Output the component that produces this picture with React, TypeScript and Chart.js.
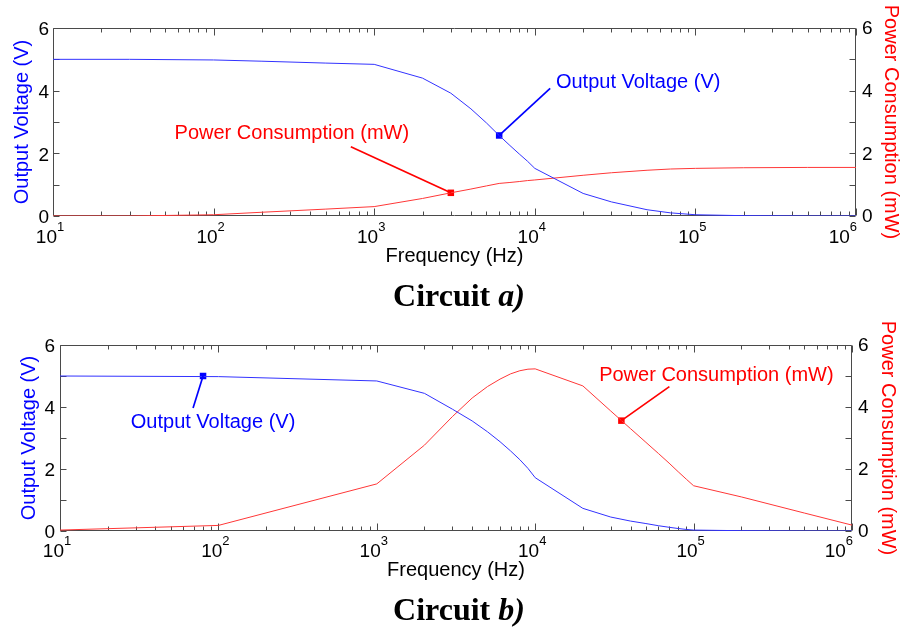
import React, { useEffect, useRef } from 'react';
import { Chart, registerables } from 'chart.js';

Chart.register(...registerables);

const FONT = "'Liberation Sans', Arial, Helvetica, sans-serif";

// ---- axis ticks ----
const X_TICK_VALUES = [10, 100, 1000, 10000, 100000, 1000000];
const X_TICK_BASE = '10';
const X_TICK_EXPONENTS = ['1', '2', '3', '4', '5', '6'];
const Y_TICK_VALUES = [0, 2, 4, 6];
const Y_MINOR_TICKS = [0, 1, 2, 3, 4, 5, 6];

// ---- Circuit a) ----
const FREQ_A = [10, 30, 100, 200, 500, 1000, 2000, 3000, 4000, 5000, 6000, 7000, 8000, 9000, 10000, 20000, 30000, 50000, 70000, 100000, 200000, 500000, 1000000];
const VOLT_A = [5.0, 5.0, 4.98, 4.94, 4.88, 4.84, 4.4, 3.92, 3.42, 2.97, 2.57, 2.25, 1.98, 1.75, 1.52, 0.72, 0.45, 0.2, 0.1, 0.04, 0.01, 0.0, 0.0];
const POWER_A = [0.0, 0.0, 0.04, 0.12, 0.22, 0.3, 0.56, 0.74, 0.86, 0.96, 1.04, 1.07, 1.1, 1.13, 1.15, 1.3, 1.38, 1.46, 1.5, 1.52, 1.54, 1.55, 1.55];
const MARK_A_FREQ = [6000, 3000];
const MARK_A_VALUE = [2.57, 0.74];

// ---- Circuit b) ----
const FREQ_B = [10, 100, 1000, 2000, 3000, 4000, 5000, 6000, 7000, 8000, 9000, 10000, 20000, 30000, 40000, 50000, 60000, 70000, 80000, 90000, 100000, 200000, 500000, 1000000];
const VOLT_B = [5.0, 4.98, 4.84, 4.44, 3.93, 3.55, 3.2, 2.88, 2.58, 2.3, 2.02, 1.72, 0.73, 0.45, 0.32, 0.24, 0.17, 0.12, 0.08, 0.05, 0.03, 0.01, 0.0, 0.0];
const POWER_B = [0.03, 0.18, 1.52, 2.77, 3.69, 4.29, 4.66, 4.9, 5.07, 5.17, 5.22, 5.23, 4.68, 3.87, 3.3, 2.86, 2.5, 2.19, 1.91, 1.67, 1.46, 1.1, 0.58, 0.19];
const MARK_B_FREQ = [80, 35000];
const MARK_B_VALUE = [5.0, 3.56];

const SERIES_LABELS = ['Output Voltage (V)', 'Power Consumption (mW)'];
const X_TITLE = 'Frequency (Hz)';

const BLUE_LINE = 'rgb(50,50,255)';
const RED_LINE = 'rgb(255,55,55)';
const BLUE_TEXT = '#0000ff';
const RED_TEXT = '#ff0000';

const framePlugin = {
  id: 'frame',
  beforeDatasetsDraw(chart: any) {
    const { ctx, chartArea } = chart;
    const { left, right, top, bottom } = chartArea;
    const xs = chart.scales.x;
    const ys = chart.scales.y;
    ctx.save();
    ctx.strokeStyle = '#4a4a4a';
    ctx.lineWidth = 1;
    const L = Math.round(left) + 0.5;
    const R = Math.round(right) - 0.5;
    const T = Math.round(top) + 0.5;
    const B = Math.round(bottom) - 0.5;
    ctx.beginPath();
    ctx.rect(L, T, R - L, B - T);
    ctx.stroke();
    ctx.beginPath();
    for (let e = 1; e <= 6; e++) {
      for (let m = 1; m <= 9; m++) {
        const v = m * Math.pow(10, e);
        if (v > 1000000) break;
        const px = Math.round(xs.getPixelForValue(v)) + 0.5;
        const len = m === 1 ? 7 : 4;
        ctx.moveTo(px, B);
        ctx.lineTo(px, B - len);
        ctx.moveTo(px, T);
        ctx.lineTo(px, T + len);
      }
    }
    Y_MINOR_TICKS.forEach((v) => {
      const py = Math.round(ys.getPixelForValue(v)) + 0.5;
      ctx.moveTo(L, py);
      ctx.lineTo(L + 6, py);
      ctx.moveTo(R, py);
      ctx.lineTo(R - 6, py);
    });
    ctx.stroke();
    ctx.restore();
  },
  afterDraw(chart: any, _args: any, opts: any) {
    // x tick labels drawn as "10" with a raised exponent
    const { ctx, chartArea } = chart;
    const xs = chart.scales.x;
    const baseY = chartArea.bottom + (opts && opts.labelDrop ? opts.labelDrop : 27);
    ctx.save();
    ctx.fillStyle = '#000';
    ctx.textBaseline = 'alphabetic';
    ctx.textAlign = 'left';
    X_TICK_VALUES.forEach((v, i) => {
      const px = xs.getPixelForValue(v);
      ctx.font = `19px ${FONT}`;
      const wb = ctx.measureText(X_TICK_BASE).width;
      ctx.font = `13px ${FONT}`;
      const we = ctx.measureText(X_TICK_EXPONENTS[i]).width;
      const total = wb + we;
      const last = i === X_TICK_VALUES.length - 1;
      const x0 = last ? px + 1 - total : px - 3 - total / 2;
      ctx.font = `19px ${FONT}`;
      ctx.fillText(X_TICK_BASE, x0, baseY);
      ctx.font = `13px ${FONT}`;
      ctx.fillText(X_TICK_EXPONENTS[i], x0 + wb, baseY - 12);
    });
    ctx.restore();
  },
};

const leaderPlugin = {
  id: 'leaders',
  afterDatasetsDraw(chart: any, _args: any, opts: any) {
    const items = (opts && opts.items) || [];
    const { ctx } = chart;
    ctx.save();
    items.forEach((it: any) => {
      const meta = chart.getDatasetMeta(it.dataset);
      const pt = meta.data[it.index];
      if (!pt) return;
      ctx.strokeStyle = it.color;
      ctx.lineWidth = 1.7;
      ctx.beginPath();
      ctx.moveTo(pt.x, pt.y);
      ctx.lineTo(pt.x + it.dx, pt.y + it.dy);
      ctx.stroke();
      ctx.fillStyle = it.color;
      ctx.font = `20px ${FONT}`;
      ctx.textAlign = 'center';
      ctx.textBaseline = 'middle';
      ctx.fillText(it.text, pt.x + it.tx, pt.y + it.ty);
    });
    ctx.restore();
  },
};

type Spec = {
  freq: number[];
  volt: number[];
  power: number[];
  markFreq: number[];
  markValue: number[];
  leftW: number;
  rightW: number;
  padTop: number;
  xH: number;
  leftTitlePad: number;
  rightTitlePad: number;
  xTitlePad: number;
  labelDrop: number;
  leftTickPad: number;
  rightTickPad: number;
  leaders: any[];
};

function ChartPanel({ spec, height }: { spec: Spec; height: number }) {
  const ref = useRef<HTMLCanvasElement | null>(null);
  useEffect(() => {
    if (!ref.current) return;
    const voltData = spec.freq.map((f, i) => ({ x: f, y: spec.volt[i] }));
    const powerData = spec.freq.map((f, i) => ({ x: f, y: spec.power[i] }));
    const tickFont = { family: FONT, size: 19 };
    const titleFont = { family: FONT, size: 20, lineHeight: 1 };
    const chart = new Chart(ref.current, {
      type: 'line',
      data: {
        datasets: [
          {
            label: SERIES_LABELS[0],
            data: voltData,
            borderColor: BLUE_LINE,
            borderWidth: 1,
            pointRadius: 0,
            yAxisID: 'y',
            tension: 0,
          },
          {
            label: SERIES_LABELS[1],
            data: powerData,
            borderColor: RED_LINE,
            borderWidth: 1,
            pointRadius: 0,
            yAxisID: 'y2',
            tension: 0,
          },
          {
            label: 'marker-v',
            data: [{ x: spec.markFreq[0], y: spec.markValue[0] }],
            showLine: false,
            pointStyle: 'rect',
            pointRadius: 4.6,
            pointBackgroundColor: BLUE_TEXT,
            pointBorderWidth: 0,
            yAxisID: 'y',
          },
          {
            label: 'marker-p',
            data: [{ x: spec.markFreq[1], y: spec.markValue[1] }],
            showLine: false,
            pointStyle: 'rect',
            pointRadius: 4.6,
            pointBackgroundColor: RED_TEXT,
            pointBorderWidth: 0,
            yAxisID: 'y2',
          },
        ],
      },
      options: {
        responsive: false,
        animation: false,
        devicePixelRatio: 1,
        layout: { padding: { top: spec.padTop, left: 0, right: 0, bottom: 0 } },
        plugins: {
          legend: { display: false },
          tooltip: { enabled: false },
          leaders: { items: spec.leaders },
          frame: { labelDrop: spec.labelDrop },
        } as any,
        scales: {
          x: {
            type: 'logarithmic',
            position: 'bottom',
            min: 10,
            max: 1000000,
            afterBuildTicks: (s: any) => {
              s.ticks = X_TICK_VALUES.map((v) => ({ value: v }));
            },
            afterFit: (s: any) => {
              s.height = spec.xH;
            },
            grid: { display: false, drawTicks: false },
            border: { display: false },
            ticks: { display: false },
            title: {
              display: true,
              text: X_TITLE,
              color: '#000',
              font: titleFont,
              padding: { top: 0, bottom: spec.xTitlePad },
            },
          },
          y: {
            type: 'linear',
            position: 'left',
            min: 0,
            max: 6,
            afterBuildTicks: (s: any) => {
              s.ticks = Y_TICK_VALUES.map((v) => ({ value: v }));
            },
            afterFit: (s: any) => {
              s.width = spec.leftW;
            },
            grid: { display: false, drawTicks: false },
            border: { display: false },
            ticks: { padding: spec.leftTickPad, color: '#000', font: tickFont, labelOffset: 2 },
            title: {
              display: true,
              text: SERIES_LABELS[0],
              color: BLUE_TEXT,
              font: titleFont,
              padding: { top: spec.leftTitlePad, bottom: 0 },
            },
          },
          y2: {
            type: 'linear',
            position: 'right',
            min: 0,
            max: 6,
            afterBuildTicks: (s: any) => {
              s.ticks = Y_TICK_VALUES.map((v) => ({ value: v }));
            },
            afterFit: (s: any) => {
              s.width = spec.rightW;
            },
            grid: { display: false, drawTicks: false },
            border: { display: false },
            ticks: { padding: spec.rightTickPad, color: '#000', font: tickFont, labelOffset: 1 },
            title: {
              display: true,
              text: SERIES_LABELS[1],
              color: RED_TEXT,
              font: titleFont,
              padding: { top: spec.rightTitlePad, bottom: 0 },
            },
          },
        },
      } as any,
      plugins: [framePlugin, leaderPlugin],
    });
    return () => chart.destroy();
  }, [spec]);
  return <canvas ref={ref} width={902} height={height} style={{ display: 'block' }} />;
}

const SPEC_A: Spec = {
  freq: FREQ_A,
  volt: VOLT_A,
  power: POWER_A,
  markFreq: MARK_A_FREQ,
  markValue: MARK_A_VALUE,
  leftW: 53,
  rightW: 46,
  padTop: 28,
  xH: 64,
  leftTitlePad: 12,
  rightTitlePad: 1,
  xTitlePad: 14,
  labelDrop: 27,
  leftTickPad: 4,
  rightTickPad: 6,
  leaders: [
    { dataset: 2, index: 0, dx: 51, dy: -47, tx: 139, ty: -53, text: SERIES_LABELS[0], color: BLUE_TEXT },
    { dataset: 3, index: 0, dx: -100, dy: -46, tx: -159, ty: -59, text: SERIES_LABELS[1], color: RED_TEXT },
  ],
};

const SPEC_B: Spec = {
  freq: FREQ_B,
  volt: VOLT_B,
  power: POWER_B,
  markFreq: MARK_B_FREQ,
  markValue: MARK_B_VALUE,
  leftW: 60,
  rightW: 50,
  padTop: 30,
  xH: 64,
  leftTitlePad: 19,
  rightTitlePad: 4,
  xTitlePad: 15,
  labelDrop: 26,
  leftTickPad: 5,
  rightTickPad: 6,
  leaders: [
    { dataset: 2, index: 0, dx: -10, dy: 32, tx: 10, ty: 46, text: SERIES_LABELS[0], color: BLUE_TEXT },
    { dataset: 3, index: 0, dx: 48, dy: -34, tx: 95, ty: -45, text: SERIES_LABELS[1], color: RED_TEXT },
  ],
};

const captionStyle: React.CSSProperties = {
  position: 'absolute',
  left: 0,
  width: 918,
  textAlign: 'center',
  fontFamily: "'Liberation Serif', 'Times New Roman', serif",
  fontWeight: 'bold',
  fontSize: 32,
  lineHeight: '32px',
  color: '#000',
};

export default function App() {
  return (
    <div style={{ position: 'absolute', left: 0, top: 0, width: 902, height: 628, background: '#fff', overflow: 'hidden' }}>
      <div style={{ position: 'absolute', left: 0, top: 0 }}>
        <ChartPanel spec={SPEC_A} height={280} />
      </div>
      <div style={{ ...captionStyle, top: 279 }}>
        Circuit <i>a)</i>
      </div>
      <div style={{ position: 'absolute', left: 0, top: 315 }}>
        <ChartPanel spec={SPEC_B} height={280} />
      </div>
      <div style={{ ...captionStyle, top: 593 }}>
        Circuit <i>b)</i>
      </div>
    </div>
  );
}
